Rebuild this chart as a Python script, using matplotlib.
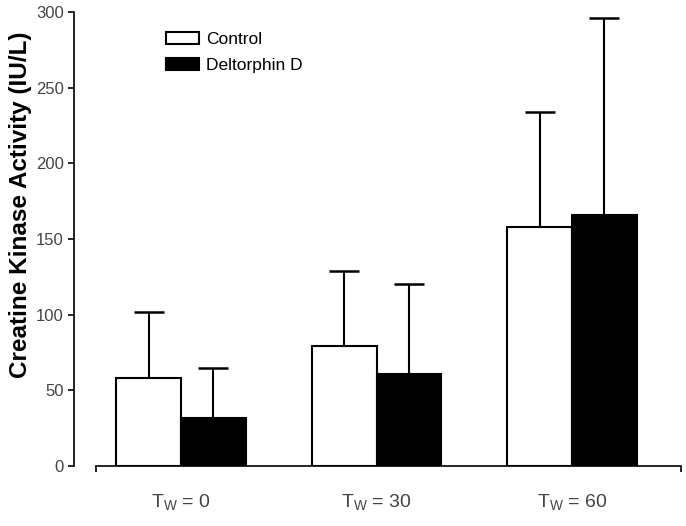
import matplotlib.pyplot as plt
import numpy as np

plt.rcParams['font.family'] = ['Liberation Sans', 'DejaVu Sans']
plt.rcParams['mathtext.fontset'] = 'custom'
plt.rcParams['mathtext.rm'] = 'Liberation Sans'

groups = ['T$_\\mathrm{W}$ = 0', 'T$_\\mathrm{W}$ = 30', 'T$_\\mathrm{W}$ = 60']
control = [58, 79, 158]
control_err = [44, 50, 76]
deltorphin = [32, 61, 166]
deltorphin_err = [33, 59, 130]

W, H = 686, 526
fig = plt.figure(figsize=(W / 100, H / 100), dpi=100)
ax = fig.add_axes([74 / W, (H - 466) / H, (681 - 74) / W, (466 - 12) / H])

x = np.arange(len(groups))
bw = 0.33
ax.bar(x - bw / 2, control, bw, color='white', edgecolor='black', linewidth=1.5,
       label='Control', zorder=2)
ax.bar(x + bw / 2, deltorphin, bw, color='black', edgecolor='black', linewidth=1.5,
       label='Deltorphin D', zorder=2)
ax.errorbar(x - bw / 2, control, yerr=[np.zeros(3), control_err], fmt='none',
            ecolor='black', elinewidth=1.5, capsize=11, capthick=1.8, zorder=1)
ax.errorbar(x + bw / 2, deltorphin, yerr=[np.zeros(3), deltorphin_err], fmt='none',
            ecolor='black', elinewidth=1.5, capsize=11, capthick=1.8, zorder=1)

ax.set_xlim(-0.5473, 2.5575)
ax.set_ylim(0, 300)
ax.set_yticks(range(0, 301, 50))
ax.tick_params(axis='y', labelsize=12, labelcolor='#444444', length=4, width=1.2)
ax.set_xticks(x)
ax.set_xticklabels(groups, fontsize=14, color='#444444')
ax.tick_params(axis='x', which='major', length=0, pad=19)
ax.set_xticks([-0.4348, 2.5575], minor=True)
ax.tick_params(axis='x', which='minor', length=4, width=1.2)

for s in ['top', 'right']:
    ax.spines[s].set_visible(False)
ax.spines['left'].set_linewidth(1.2)
ax.spines['bottom'].set_linewidth(1.2)
ax.spines['bottom'].set_bounds(-0.4348, 2.5575)

ax.set_ylabel('Creatine Kinase Activity (IU/L)', fontsize=17.5, fontweight='bold')
ax.yaxis.set_label_coords(-0.07, 0.575)

ax.legend(loc='upper left', bbox_to_anchor=(0.126, 0.99), frameon=False,
          fontsize=12.5, handlelength=1.9, handleheight=0.7, labelspacing=0.6,
          handletextpad=0.4)

fig.savefig('out.png', dpi=100)
